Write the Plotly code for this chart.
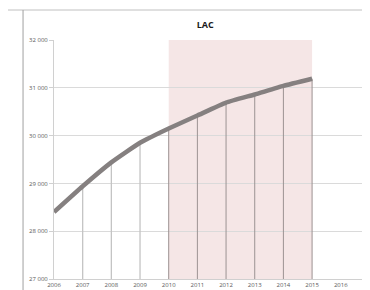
import plotly.graph_objects as go

years = [2006, 2007, 2008, 2009, 2010, 2011, 2012, 2013, 2014, 2015]
values = [28400, 28940, 29440, 29850, 30150, 30420, 30690, 30860, 31040, 31190]
x_ticks = list(range(2006, 2018))
y_ticks = [27000, 28000, 29000, 30000, 31000, 32000]
shade_years = [2010, 2015]
title_text = "LAC"

def drops(sel):
    dx, dy = [], []
    for x, v in zip(years, values):
        if sel(x):
            dx += [x, x, None]
            dy += [y_ticks[0], v, None]
    return dx, dy

fig = go.Figure()
ox, oy = drops(lambda x: years[0] < x < shade_years[0])
ix, iy = drops(lambda x: x >= shade_years[0])
fig.add_trace(go.Scatter(x=ox, y=oy, mode="lines",
                         line=dict(color="#c4c4c4", width=1.3), hoverinfo="skip"))
fig.add_trace(go.Scatter(x=ix, y=iy, mode="lines",
                         line=dict(color="#9c9292", width=1), hoverinfo="skip"))
fig.add_trace(go.Scatter(x=years, y=values, mode="lines",
                         line=dict(color="#858080", width=4.5, shape="spline", smoothing=0.4)))

fig.add_shape(type="rect", xref="x", yref="paper", x0=shade_years[0], x1=shade_years[1],
              y0=0, y1=1, fillcolor="#f5e6e6", line_width=0, layer="below")
# outer chart frame
fig.add_shape(type="line", xref="paper", yref="paper", x0=-0.2, x1=1.1, y0=1.1255, y1=1.1255,
              line=dict(color="#c0c0c0", width=1))
fig.add_shape(type="line", xref="paper", yref="paper", x0=-0.098, x1=-0.098, y0=-0.1, y1=1.1255,
              line=dict(color="#a0a0a0", width=1))

fig.update_layout(
    width=362, height=282,
    margin=dict(l=46, r=0, t=32, b=11),
    paper_bgcolor="white", plot_bgcolor="white",
    showlegend=False,
    separators=". ",
    title=dict(text="<b>" + title_text + "</b>", x=0.545, xanchor="center", y=0.94, yanchor="middle",
               font=dict(family="Open Sans", size=9, color="#1a1a1a")),
    xaxis=dict(range=[2006, 2017.02], tickvals=x_ticks, ticks="", showgrid=False,
               zeroline=False, showline=True, linecolor="#d0d0d0", linewidth=1,
               ticklabeloverflow="allow", automargin=False,
               tickfont=dict(family="Open Sans", size=6, color="#595959"), ticklabelstandoff=0),
    yaxis=dict(range=[27000, 32000], tickvals=y_ticks, tickformat=",d", ticks="outside",
               ticklen=4, tickcolor="#d0d0d0", showgrid=True, gridcolor="#dadada",
               gridwidth=1, zeroline=False, showline=True, linecolor="#d0d0d0",
               automargin=False,
               tickfont=dict(family="Open Sans", size=6, color="#595959")),
)

fig.write_html("out.html")
